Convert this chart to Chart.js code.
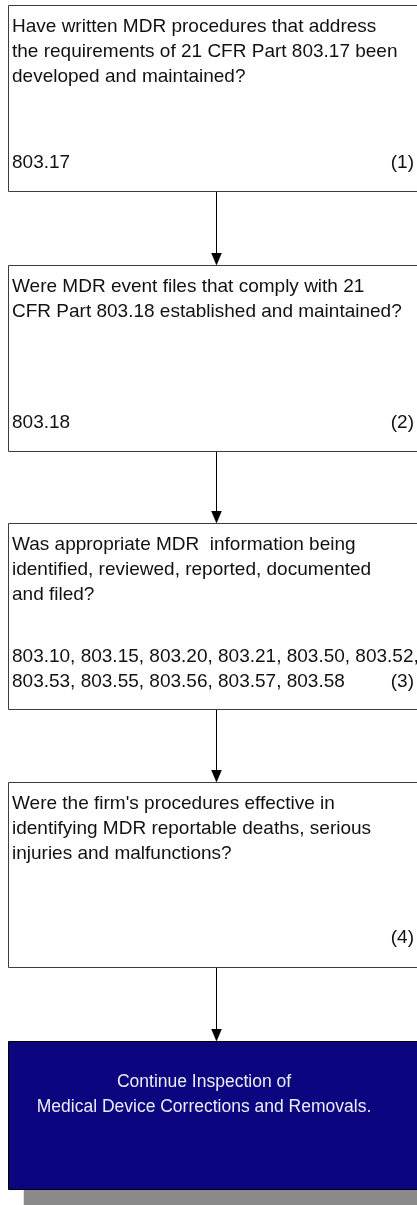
<!DOCTYPE html>
<html>
<head>
<meta charset="utf-8">
<script src="https://cdn.jsdelivr.net/npm/chart.js@4/dist/chart.umd.min.js"></script>
<style>
  html, body { margin: 0; padding: 0; background: #ffffff; }
  #wrap { width: 417px; height: 1205px; }
</style>
</head>
<body>
<div id="wrap"><canvas id="c" width="417" height="1205"></canvas></div>
<script>
// ---------- content (data) ----------
const stepQuestions = [
  ["Have written MDR procedures that address", "the requirements of 21 CFR Part 803.17 been", "developed and maintained?"],
  ["Were MDR event files that comply with 21", "CFR Part 803.18 established and maintained?"],
  ["Was appropriate MDR  information being", "identified, reviewed, reported, documented", "and filed?"],
  ["Were the firm's procedures effective in", "identifying MDR reportable deaths, serious", "injuries and malfunctions?"]
];
const stepCodes = [
  ["803.17"],
  ["803.18"],
  ["803.10, 803.15, 803.20, 803.21, 803.50, 803.52,", "803.53, 803.55, 803.56, 803.57, 803.58"],
  []
];
const stepNumbers = ["(1)", "(2)", "(3)", "(4)"];
const finalStep = ["Continue Inspection of", "Medical Device Corrections and Removals."];

// ---------- layout (flow units on the chart's linear scales) ----------
const boxTops    = [5.5, 265.5, 523.5, 782.5, 1041.5];
const boxBottoms = [191.5, 451.5, 709.5, 967.5, 1189.5];
const codeOffsets = [162, 162, 138, 160];   // baseline of first code line below box top
const BOX_LEFT = 8.5, BOX_RIGHT = 432, ARROW_X = 216.5;
const LINE_GAP = 25, FIRST_LINE = 26;
const SHADOW_DX = 15, SHADOW_DY = 16;

// arrowhead image
const head = document.createElement('canvas');
head.width = 11; head.height = 13;
(function(){
  const g = head.getContext('2d');
  g.fillStyle = '#000';
  g.beginPath(); g.moveTo(0, 0); g.lineTo(11, 0); g.lineTo(5.5, 13); g.closePath(); g.fill();
})();

const rectPts = (l, t, r, b) => [{x:l,y:t},{x:r,y:t},{x:r,y:b},{x:l,y:b},{x:l,y:t}];

const datasets = [];
// outlines (first = drawn on top)
for (let i = 0; i < boxTops.length; i++) {
  datasets.push({
    data: rectPts(BOX_LEFT, boxTops[i], BOX_RIGHT, boxBottoms[i]),
    borderColor: i === 4 ? '#000000' : '#3c3c3c', borderWidth: 1,
    pointRadius: 0, fill: false, tension: 0, clip: false
  });
}
// arrows
for (let i = 0; i < boxTops.length - 1; i++) {
  datasets.push({
    data: [{x: ARROW_X, y: boxBottoms[i]}, {x: ARROW_X, y: boxTops[i+1] - 12}],
    borderColor: '#000000', borderWidth: 1, pointRadius: 0, fill: false, clip: false
  });
  datasets.push({
    data: [{x: ARROW_X, y: boxTops[i+1] - 6.5}],
    showLine: false, pointStyle: head, pointRadius: 6, clip: false
  });
}
// final box fill
datasets.push({
  data: [{x: BOX_LEFT, y: boxTops[4]}, {x: BOX_RIGHT, y: boxTops[4]}],
  borderColor: '#0b0680', borderWidth: 0, backgroundColor: '#0b0680',
  fill: {value: boxBottoms[4]}, pointRadius: 0, clip: false
});
// shadow (last = drawn first)
datasets.push({
  data: [{x: BOX_LEFT + SHADOW_DX, y: boxBottoms[4]}, {x: BOX_RIGHT + SHADOW_DX, y: boxBottoms[4]}],
  borderColor: '#8a8a8a', borderWidth: 0, backgroundColor: '#8a8a8a',
  fill: {value: boxBottoms[4] + SHADOW_DY}, pointRadius: 0, clip: false
});

const textPlugin = {
  id: 'flowText',
  afterDatasetsDraw(chart) {
    const ctx = chart.ctx, xs = chart.scales.x, ys = chart.scales.y;
    ctx.save();
    ctx.textBaseline = 'alphabetic';
    ctx.fillStyle = '#111111';
    ctx.font = '19px "Liberation Sans", Arial, sans-serif';
    const left = xs.getPixelForValue(12), right = xs.getPixelForValue(414);
    for (let i = 0; i < stepQuestions.length; i++) {
      const top = boxTops[i];
      ctx.textAlign = 'left';
      stepQuestions[i].forEach((s, k) => {
        ctx.fillText(s, left, ys.getPixelForValue(top + FIRST_LINE + LINE_GAP * k));
      });
      const cy = top + codeOffsets[i];
      stepCodes[i].forEach((s, k) => {
        ctx.fillText(s, left, ys.getPixelForValue(cy + LINE_GAP * k));
      });
      const nLine = Math.max(stepCodes[i].length - 1, 0);
      ctx.textAlign = 'right';
      ctx.fillText(stepNumbers[i], right, ys.getPixelForValue(cy + LINE_GAP * nLine));
    }
    ctx.fillStyle = '#ececf4';
    ctx.font = '17.5px "Liberation Sans", Arial, sans-serif';
    ctx.textAlign = 'center';
    finalStep.forEach((s, k) => {
      ctx.fillText(s, xs.getPixelForValue(204), ys.getPixelForValue(1087 + LINE_GAP * k));
    });
    ctx.restore();
  }
};

new Chart(document.getElementById('c'), {
  type: 'scatter',
  data: { datasets },
  options: {
    responsive: false,
    animation: false,
    showLine: true,
    layout: { padding: 0, autoPadding: false },
    plugins: { legend: { display: false }, tooltip: { enabled: false } },
    scales: {
      x: { type: 'linear', min: 0, max: 417, display: false },
      y: { type: 'linear', min: 0, max: 1205, reverse: true, display: false }
    }
  },
  plugins: [textPlugin]
});
</script>
</body>
</html>
